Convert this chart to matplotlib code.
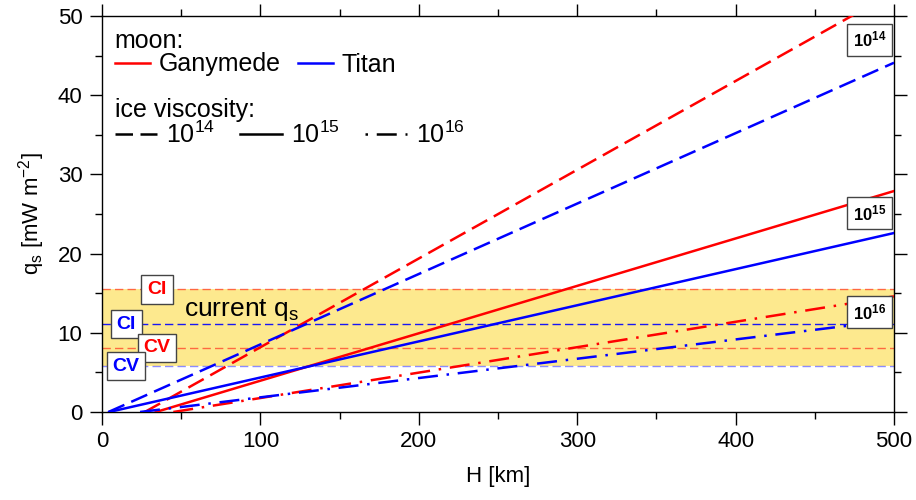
import matplotlib
matplotlib.use("Agg")
import matplotlib.pyplot as plt
from matplotlib.lines import Line2D

plt.rcParams['font.family'] = ['Liberation Sans', 'DejaVu Sans']
plt.rcParams['mathtext.fontset'] = 'custom'
plt.rcParams['mathtext.rm'] = 'Liberation Sans'
plt.rcParams['mathtext.bf'] = 'Liberation Sans:bold'

# data
viscosity = ['$10^{14}$', '$10^{15}$', '$10^{16}$']
ganymede_H0 = [27, 34, 45]          # H where q_s = 0 [km]
ganymede_q500 = [53.0, 27.9, 14.6]  # q_s at H = 500 km
titan_H0 = [4, 4.5, 24]
titan_q500 = [44.1, 22.6, 11.6]
H_max = 500

ganymede_CI, ganymede_CV = 15.5, 8.1
titan_CI, titan_CV = 11.1, 5.8

RED = '#ff0000'
BLUE = '#0000ff'
styles = [(0, (7, 3)), '-', (0, (8, 3.5, 1, 3.5))]

fig = plt.figure(figsize=(9.16, 5), dpi=100)
ax = fig.add_axes([0.1114, 0.176, 0.8646, 0.792])

# current q_s band
ax.axhspan(titan_CV, ganymede_CI, color='#fde98e', lw=0, zorder=0)
ax.axhline(ganymede_CI, color=RED, alpha=0.55, lw=1, ls=(0, (6, 3)), zorder=1)
ax.axhline(ganymede_CV, color=RED, alpha=0.55, lw=1, ls=(0, (6, 3)), zorder=1)
ax.axhline(titan_CI, color=BLUE, alpha=0.9, lw=1, ls=(0, (6, 3)), zorder=1)
ax.axhline(titan_CV, color=BLUE, alpha=0.45, lw=1, ls=(0, (6, 3)), zorder=1)

for i in range(3):
    ax.plot([ganymede_H0[i], H_max], [0, ganymede_q500[i]], color=RED, lw=1.8,
            ls=styles[i], zorder=3)
    ax.plot([titan_H0[i], H_max], [0, titan_q500[i]], color=BLUE, lw=1.8,
            ls=styles[i], zorder=3)

box = dict(boxstyle='square,pad=0.3', fc='white', ec='#444444', lw=1)
ax.text(34.7, ganymede_CI, 'CI', color=RED, fontsize=14, fontweight='bold',
        ha='center', va='center', bbox=box, zorder=5)
ax.text(15.2, titan_CI, 'CI', color=BLUE, fontsize=14, fontweight='bold',
        ha='center', va='center', bbox=box, zorder=5)
ax.text(34.7, ganymede_CV, 'CV', color=RED, fontsize=14, fontweight='bold',
        ha='center', va='center', bbox=box, zorder=5)
ax.text(15.2, titan_CV, 'CV', color=BLUE, fontsize=14, fontweight='bold',
        ha='center', va='center', bbox=box, zorder=5)

ax.text(52, 12.9, 'current q$_\\mathregular{s}$', fontsize=19, ha='left',
        va='center', zorder=5)

box2 = dict(boxstyle='square,pad=0.35', fc='white', ec='#444444', lw=1)
for lab, yy in zip(viscosity, [47.0, 25.1, 12.6]):
    ax.text(484.5, yy, '$\\mathbf{' + lab.strip('$') + '}$', fontsize=12,
            ha='center', va='center', bbox=box2, zorder=6)

# legends
h1 = [Line2D([], [], color=RED, lw=1.8), Line2D([], [], color=BLUE, lw=1.8)]
leg1 = ax.legend(h1, ['Ganymede', 'Titan'], title='moon:', ncol=2,
                 loc='upper left', bbox_to_anchor=(0.0, 1.0), frameon=False,
                 fontsize=18, title_fontsize=18, handlelength=1.4,
                 handletextpad=0.35, columnspacing=0.7, borderpad=0.3,
                 borderaxespad=0.2, labelspacing=0.0, alignment='left')
ax.add_artist(leg1)
h2 = [Line2D([], [], color='black', lw=1.8, ls=(0, (7, 3))),
      Line2D([], [], color='black', lw=1.8, ls='-'),
      Line2D([], [], color='black', lw=1.8, ls=(11.5, (8, 3.5, 1, 3.5)))]
ax.legend(h2, viscosity, title='ice viscosity:', ncol=3, loc='upper left',
          bbox_to_anchor=(0.0, 0.825), frameon=False, fontsize=18,
          title_fontsize=18, handlelength=1.7, handletextpad=0.35,
          columnspacing=1.0, borderpad=0.3, borderaxespad=0.2,
          labelspacing=0.0, alignment='left')

ax.set_xlim(0, 500)
ax.set_ylim(0, 50)
ax.set_xticks(range(0, 501, 100))
ax.set_xticks(range(0, 501, 50), minor=True)
ax.set_yticks(range(0, 51, 10))
ax.set_yticks(range(0, 51, 5), minor=True)
ax.tick_params(which='both', direction='out', top=True, right=True,
               labeltop=False, labelright=False, labelsize=16, width=1,
               color='black')
ax.tick_params(which='major', length=9, pad=5)
ax.tick_params(which='minor', length=5)
for s in ax.spines.values():
    s.set_linewidth(1)

ax.set_xlabel('H [km]', fontsize=16, labelpad=10)
ax.set_ylabel('q$_\\mathregular{s}$ [mW m$^\\mathregular{-2}$]', fontsize=16,
              labelpad=8)

fig.savefig('out.png', dpi=100)
